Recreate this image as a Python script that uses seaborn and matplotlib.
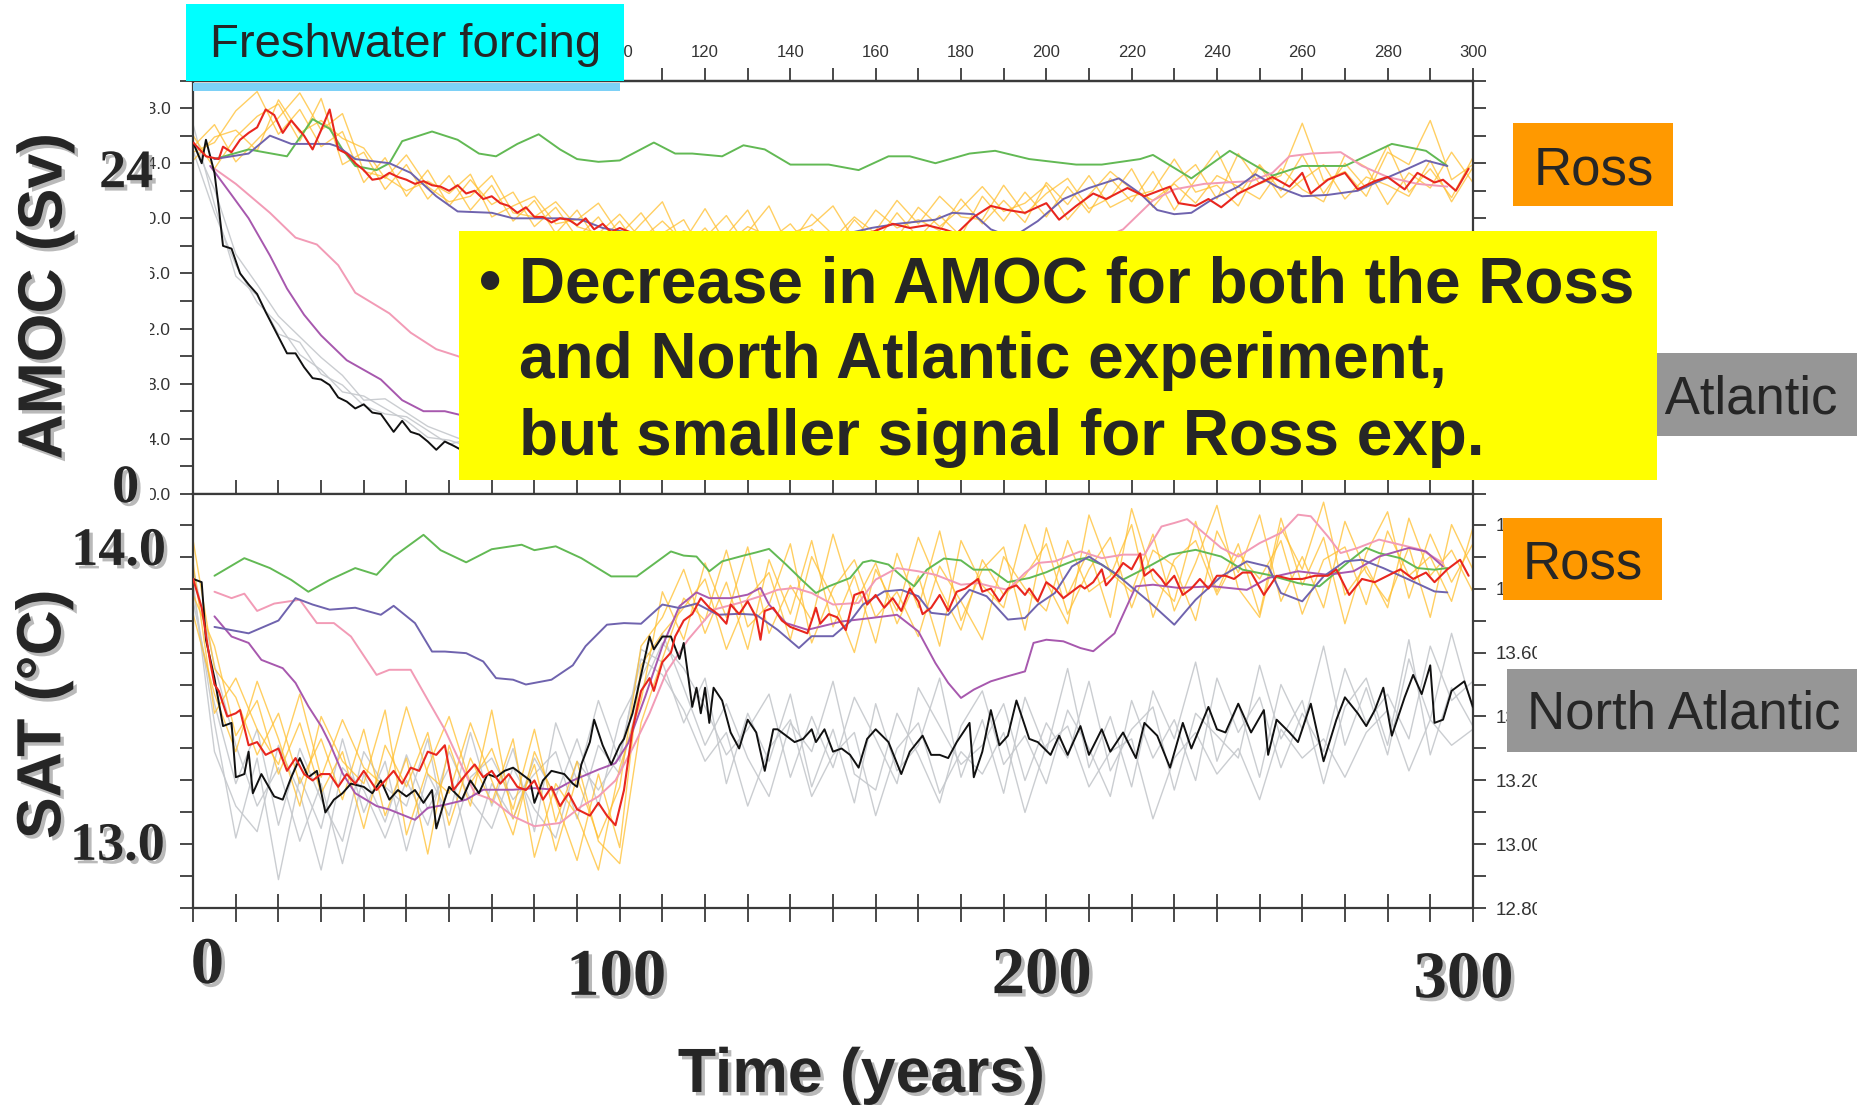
import numpy as np
import matplotlib
matplotlib.use("Agg")
import matplotlib.pyplot as plt
import matplotlib.patches as mpatches
import matplotlib.patheffects as pe
from matplotlib.ticker import MultipleLocator, FormatStrFormatter, FuncFormatter
import seaborn as sns

sns.set_style("white")
plt.rcParams['font.family'] = ['Liberation Sans', 'DejaVu Sans']

# ---------------------------------------------------------------- data
forcing_years = [0, 100]
years_5 = np.arange(0, 301, 5)

# AMOC (Sv) - ensemble means / smoothed runs, [year, value]
red_amoc = np.array([
    [0, 25.5], [3, 24.5], [6, 24.3], [7, 25.2], [9, 24.8], [11, 25.7], [13, 26.2], [15, 26.6],
    [17, 27.9], [19, 27.5], [21, 26.2], [23, 27.1], [26, 26.0], [28, 25.0], [30, 26.4], [32, 27.9],
    [34, 25.0], [36, 24.7], [38, 24.0], [40, 23.5], [42, 22.8], [44, 22.9], [46, 23.3], [48, 23.0],
    [50, 22.8], [52, 22.5], [54, 22.7], [56, 22.4], [58, 22.3], [60, 22.0], [62, 22.4], [64, 21.8],
    [66, 22.0], [68, 21.4], [70, 21.6], [72, 21.1], [74, 20.9], [76, 20.4], [78, 20.8], [80, 20.1],
    [82, 20.1], [84, 19.7], [86, 20.0], [88, 19.9], [90, 19.5], [92, 20.0], [94, 19.2], [96, 19.6],
    [98, 19.0], [100, 19.3], [104, 18.8], [108, 18.9], [112, 18.5], [116, 18.7], [120, 18.3],
    [124, 18.6], [128, 18.2], [132, 18.5], [136, 18.1], [140, 18.4], [144, 18.6], [148, 18.3],
    [152, 18.8], [156, 18.6], [160, 19.1], [164, 19.6], [168, 19.3], [172, 19.5], [176, 19.2],
    [179, 18.9], [183, 20.1], [187, 20.9], [191, 20.6], [195, 20.4], [200, 21.1], [203, 19.9],
    [207, 20.9], [211, 21.8], [214, 21.4], [219, 22.2], [223, 21.6], [229, 22.3], [231, 21.1],
    [235, 20.9], [238, 21.4], [241, 20.8], [245, 21.8], [249, 22.4], [253, 23.0], [257, 22.3],
    [260, 23.3], [262, 21.8], [266, 22.8], [270, 23.3], [273, 22.1], [277, 22.7], [280, 23.0],
    [284, 22.1], [287, 23.3], [291, 22.6], [293, 22.8], [296, 22.0], [299, 23.6]])

black_amoc = np.array([
    [0, 25.5], [2, 24.0], [3, 25.7], [5, 23.3], [6, 20.8], [7, 18.0], [9, 17.8], [11, 16.0],
    [13, 15.2], [15, 14.5], [17, 13.2], [20, 11.4], [22, 10.2], [24, 10.2], [26, 9.2], [28, 8.4],
    [30, 8.3], [32, 7.9], [34, 7.0], [36, 6.7], [38, 6.2], [40, 6.5], [42, 5.9], [44, 5.8],
    [47, 4.5], [49, 5.3], [51, 4.5], [53, 4.3], [55, 3.8], [57, 3.2], [59, 3.8], [61, 3.5],
    [64, 3.0], [68, 3.3], [72, 2.8], [76, 2.6], [80, 2.9], [85, 2.4], [90, 2.6], [95, 2.2],
    [100, 2.5], [110, 3.5], [120, 4.6], [130, 5.2], [140, 5.9], [150, 6.8], [160, 7.3],
    [170, 8.0], [180, 8.6], [190, 9.5], [200, 10.1], [220, 11.2], [240, 12.5], [260, 13.4],
    [280, 14.3], [300, 15.0]])

green_amoc = np.array([
    [5, 24.3], [13, 25.0], [22, 24.5], [28, 27.2], [32, 26.5], [35, 25.0], [38, 23.8], [43, 23.5],
    [46, 24.0], [49, 25.6], [56, 26.3], [62, 25.7], [67, 24.7], [71, 24.5], [76, 25.4], [81, 26.1],
    [86, 25.0], [90, 24.3], [95, 24.1], [100, 24.2], [108, 25.5], [113, 24.7], [117, 24.7],
    [124, 24.5], [129, 25.3], [134, 25.0], [140, 23.9], [149, 23.9], [156, 23.5], [163, 24.5],
    [168, 24.5], [174, 24.0], [182, 24.7], [188, 24.9], [196, 24.3], [207, 23.9], [213, 23.9],
    [222, 24.3], [225, 24.6], [234, 22.9], [243, 24.9], [253, 23.1], [260, 23.8], [270, 23.8],
    [281, 25.4], [289, 24.9], [294, 23.8]])

blue_amoc = np.array([
    [5, 24.3], [13, 24.7], [18, 26.0], [23, 25.4], [28, 25.4], [32, 25.4], [34, 25.2], [38, 24.3],
    [46, 24.0], [51, 23.3], [57, 21.6], [62, 20.5], [70, 20.4], [75, 20.0], [80, 20.0], [86, 20.0],
    [91, 19.9], [96, 19.3], [105, 18.8], [115, 18.3], [125, 17.8], [135, 17.6], [145, 18.0],
    [152, 18.8], [159, 19.3], [165, 19.6], [174, 19.9], [178, 20.4], [183, 20.3], [187, 19.2],
    [192, 18.6], [198, 19.8], [204, 21.4], [210, 22.2], [217, 22.9], [222, 21.8], [226, 20.6],
    [230, 20.3], [234, 20.4], [239, 21.4], [245, 22.3], [249, 23.2], [254, 22.3], [260, 21.6],
    [266, 21.7], [273, 22.0], [278, 22.7], [284, 23.5], [289, 24.2], [294, 23.8]])

pink_amoc = np.array([
    [5, 23.6], [10, 22.5], [18, 20.4], [24, 18.6], [29, 18.1], [34, 16.6], [38, 14.6], [46, 13.1],
    [51, 11.7], [57, 10.5], [62, 10.0], [70, 9.0], [80, 8.2], [90, 7.6], [100, 7.2], [110, 7.5],
    [120, 8.3], [130, 9.2], [140, 10.3], [150, 11.5], [160, 12.8], [170, 14.0], [180, 15.2],
    [190, 16.3], [200, 17.2], [210, 18.1], [218, 19.2], [225, 21.3], [230, 22.1], [237, 22.5],
    [242, 22.6], [248, 22.7], [253, 23.3], [257, 24.5], [262, 24.7], [269, 24.8], [274, 23.8],
    [280, 23.0], [287, 22.5], [294, 22.3]])

violet_amoc = np.array([
    [4, 23.8], [9, 21.7], [13, 20.0], [18, 17.3], [22, 14.9], [26, 13.0], [30, 11.5], [36, 9.7],
    [44, 8.3], [49, 6.8], [54, 6.0], [59, 6.0], [63, 5.7], [70, 5.3], [80, 4.9], [90, 4.6],
    [100, 4.5], [115, 5.2], [130, 6.5], [150, 8.5], [170, 10.5], [190, 12.0], [210, 13.5],
    [230, 14.8], [250, 15.8], [270, 16.5], [294, 17.0]])

# AMOC ensemble members (every 5 years)
ross_amoc_1 = [24.8, 25.5, 27.8, 29.2, 26.1, 27.9, 25.2, 26.3, 22.6, 24.4, 21.6, 23.5, 20.9, 22.8,
               21.0, 21.9, 19.4, 20.8, 18.6, 20.1, 17.9, 19.6, 21.2, 17.8, 19.3, 17.4, 19.0, 20.9,
               17.6, 19.2, 17.8, 19.9, 18.3, 20.4, 18.6, 20.2, 18.7, 21.6, 19.8, 21.9, 20.1, 22.3,
               20.4, 22.9, 21.2, 23.4, 20.6, 22.8, 24.9, 21.7, 23.9, 22.0, 24.6, 21.8, 24.0, 22.2,
               25.3, 21.9, 23.6, 21.5, 24.4]
ross_amoc_2 = [26.0, 23.6, 25.9, 27.4, 28.3, 25.6, 28.7, 23.9, 24.8, 22.1, 23.9, 21.4, 23.1, 20.6,
               22.4, 19.8, 21.3, 18.9, 20.6, 18.2, 19.8, 17.6, 18.9, 19.9, 17.2, 18.8, 20.6, 17.5,
               18.9, 19.5, 20.9, 18.4, 19.1, 21.3, 19.6, 21.6, 20.1, 19.9, 22.4, 20.3, 21.8, 22.9,
               20.7, 21.5, 23.6, 20.8, 22.6, 23.9, 21.4, 24.7, 22.5, 23.1, 26.9, 22.7, 23.4, 21.6,
               24.8, 23.9, 27.1, 22.8, 23.9]
ross_amoc_3 = [25.2, 26.8, 24.1, 25.7, 27.3, 29.1, 26.4, 27.6, 23.4, 23.0, 22.0, 22.7, 21.8, 23.2,
               20.1, 20.9, 21.6, 19.6, 19.9, 21.1, 18.8, 20.4, 18.2, 19.1, 18.6, 20.2, 17.9, 18.4,
               19.6, 17.7, 18.5, 20.1, 18.9, 18.6, 20.8, 19.4, 20.7, 22.3, 20.5, 21.1, 22.4, 19.9,
               21.7, 23.4, 22.1, 21.3, 22.5, 21.1, 23.1, 22.3, 21.4, 23.6, 22.1, 21.2, 24.6, 23.7,
               21.0, 23.3, 22.2, 24.8, 22.6]
ross_amoc_4 = [24.2, 25.9, 26.4, 24.9, 28.6, 26.2, 27.1, 25.8, 25.1, 22.9, 24.6, 22.3, 21.2, 21.6,
               23.1, 20.4, 20.1, 21.2, 19.4, 18.9, 20.3, 18.5, 19.8, 18.3, 20.7, 18.1, 19.4, 18.7,
               18.1, 20.3, 18.8, 18.4, 20.6, 19.3, 19.9, 19.1, 21.4, 19.6, 21.3, 19.7, 22.6, 21.0,
               23.1, 20.8, 21.6, 22.0, 24.3, 21.9, 22.4, 20.9, 23.8, 21.5, 22.8, 23.9, 21.4, 23.0,
               22.4, 21.6, 24.2, 21.2, 23.7]
na_amoc_1 = [24.9, 20.4, 16.6, 13.9, 12.3, 10.1, 9.0, 7.4, 7.1, 6.2, 5.3, 4.1, 3.9, 3.4, 2.9, 3.2,
             2.6, 2.9, 2.3, 2.7, 2.5, 3.3, 4.4, 4.9, 5.6, 5.9, 6.4, 6.8, 7.5, 7.7, 8.2, 8.6, 8.8,
             9.3, 9.9, 10.2, 10.4, 10.9, 11.1, 11.6, 11.8, 12.1, 12.4, 12.7, 12.6, 13.1, 13.3,
             13.5, 13.4, 13.9, 14.1, 14.0, 14.4, 14.6, 14.5, 14.9, 15.0, 15.2, 15.1, 15.4, 15.6]
na_amoc_2 = [25.6, 22.1, 17.4, 15.2, 12.9, 11.4, 9.9, 8.6, 6.8, 6.9, 5.9, 4.9, 4.3, 3.7, 3.5, 2.9,
             3.0, 2.5, 2.8, 2.2, 2.6, 3.6, 4.1, 5.1, 5.3, 6.2, 6.6, 7.1, 7.3, 8.0, 8.4, 8.3, 9.1,
             9.6, 9.7, 10.3, 10.8, 10.7, 11.4, 11.5, 12.0, 12.3, 12.2, 12.9, 13.0, 13.2, 13.1,
             13.7, 13.8, 13.6, 14.2, 14.3, 14.2, 14.7, 14.8, 14.7, 15.1, 15.3, 15.2, 15.5, 15.3]
na_amoc_3 = [26.8, 21.0, 15.8, 14.4, 11.6, 11.0, 8.7, 7.9, 6.4, 5.8, 5.6, 4.6, 3.6, 4.0, 3.1, 2.7,
             3.3, 2.6, 2.4, 2.9, 2.8, 3.1, 3.9, 4.6, 5.4, 5.7, 6.1, 6.9, 7.0, 7.6, 8.1, 8.7, 8.6,
             9.4, 9.5, 10.0, 10.6, 11.0, 10.9, 11.7, 11.9, 11.8, 12.5, 12.4, 12.9, 13.0, 13.4,
             13.3, 13.6, 13.8, 13.9, 14.1, 14.4, 14.3, 14.6, 14.6, 15.0, 14.9, 15.3, 15.2, 15.5]

# SAT (degC) - ensemble means / smoothed runs, [year, value]
red_sat = np.array([
    [0, 13.83], [2, 13.74], [4, 13.57], [5, 13.50], [6, 13.48], [8, 13.40], [10, 13.41],
    [11, 13.42], [13, 13.31], [15, 13.32], [17, 13.28], [20, 13.30], [22, 13.23], [24, 13.27],
    [26, 13.22], [28, 13.20], [30, 13.22], [32, 13.22], [34, 13.18], [36, 13.22], [38, 13.19],
    [40, 13.23], [43, 13.17], [45, 13.20], [47, 13.23], [49, 13.19], [51, 13.24], [53, 13.23],
    [55, 13.29], [57, 13.28], [59, 13.31], [61, 13.17], [64, 13.22], [66, 13.25], [68, 13.21],
    [70, 13.23], [72, 13.19], [74, 13.22], [76, 13.18], [78, 13.17], [80, 13.20], [82, 13.14],
    [84, 13.18], [86, 13.12], [88, 13.16], [90, 13.11], [93, 13.09], [95, 13.13], [97, 13.09],
    [99, 13.06], [101, 13.17], [103, 13.36], [105, 13.48], [107, 13.52], [108, 13.48],
    [110, 13.57], [112, 13.60], [113, 13.65], [115, 13.70], [117, 13.72], [119, 13.77],
    [121, 13.74], [123, 13.72], [125, 13.69], [126, 13.75], [128, 13.72], [130, 13.76],
    [132, 13.71], [133, 13.64], [134, 13.73], [136, 13.74], [138, 13.70], [140, 13.68],
    [142, 13.67], [144, 13.66], [146, 13.74], [147, 13.69], [149, 13.72], [151, 13.71],
    [153, 13.67], [155, 13.78], [157, 13.79], [158, 13.75], [160, 13.78], [162, 13.74],
    [164, 13.77], [166, 13.73], [168, 13.80], [170, 13.76], [171, 13.72], [173, 13.74],
    [175, 13.78], [177, 13.73], [179, 13.79], [181, 13.80], [183, 13.82], [184, 13.83],
    [185, 13.79], [187, 13.80], [189, 13.76], [191, 13.80], [193, 13.81], [195, 13.78],
    [196, 13.80], [198, 13.76], [200, 13.82], [202, 13.80], [204, 13.77], [206, 13.79],
    [208, 13.81], [209, 13.80], [211, 13.82], [213, 13.86], [214, 13.81], [216, 13.84],
    [218, 13.88], [220, 13.86], [222, 13.91], [223, 13.84], [225, 13.86], [227, 13.83],
    [228, 13.81], [230, 13.84], [232, 13.78], [234, 13.80], [236, 13.83], [238, 13.80],
    [240, 13.84], [242, 13.84], [244, 13.83], [246, 13.85], [248, 13.85], [251, 13.78],
    [254, 13.84], [257, 13.83], [260, 13.83], [263, 13.84], [266, 13.84], [268, 13.86],
    [271, 13.78], [274, 13.83], [277, 13.82], [280, 13.84], [283, 13.86], [286, 13.83],
    [289, 13.85], [291, 13.82], [294, 13.86], [297, 13.89], [299, 13.84]])

black_sat = np.array([
    [0, 13.83], [2, 13.82], [3, 13.64], [5, 13.52], [7, 13.37], [9, 13.38], [10, 13.21],
    [12, 13.22], [13, 13.29], [14, 13.16], [16, 13.22], [19, 13.15], [21, 13.14], [23, 13.21],
    [25, 13.27], [27, 13.21], [29, 13.23], [31, 13.10], [33, 13.14], [35, 13.16], [37, 13.19],
    [40, 13.18], [42, 13.16], [44, 13.20], [46, 13.14], [48, 13.17], [50, 13.15], [52, 13.17],
    [54, 13.13], [56, 13.17], [57, 13.05], [59, 13.14], [60, 13.18], [63, 13.14], [65, 13.20],
    [67, 13.16], [69, 13.22], [71, 13.21], [73, 13.23], [75, 13.24], [77, 13.22], [79, 13.20],
    [80, 13.13], [82, 13.20], [84, 13.23], [87, 13.22], [89, 13.19], [90, 13.18], [91, 13.25],
    [93, 13.32], [94, 13.39], [96, 13.31], [98, 13.25], [100, 13.31], [101, 13.33],
    [103, 13.41], [105, 13.53], [107, 13.65], [108, 13.61], [110, 13.65], [112, 13.65],
    [114, 13.58], [115, 13.63], [117, 13.43], [118, 13.49], [119, 13.41], [120, 13.49],
    [121, 13.38], [122, 13.49], [124, 13.45], [126, 13.35], [128, 13.30], [130, 13.39],
    [132, 13.35], [134, 13.23], [136, 13.36], [137, 13.36], [139, 13.34], [141, 13.32],
    [143, 13.33], [145, 13.36], [146, 13.32], [148, 13.36], [150, 13.29], [152, 13.30],
    [154, 13.28], [156, 13.24], [158, 13.33], [160, 13.36], [163, 13.32], [166, 13.22],
    [168, 13.29], [171, 13.34], [173, 13.28], [175, 13.28], [177, 13.27], [179, 13.32],
    [182, 13.38], [183, 13.21], [185, 13.29], [187, 13.42], [189, 13.31], [191, 13.34],
    [193, 13.45], [196, 13.33], [198, 13.32], [201, 13.28], [203, 13.34], [205, 13.28],
    [208, 13.37], [210, 13.28], [213, 13.36], [215, 13.29], [218, 13.35], [221, 13.27],
    [223, 13.38], [226, 13.34], [229, 13.24], [232, 13.38], [234, 13.30], [238, 13.43],
    [240, 13.36], [242, 13.35], [245, 13.44], [248, 13.35], [251, 13.42], [252, 13.28],
    [254, 13.39], [257, 13.35], [259, 13.32], [262, 13.44], [265, 13.26], [268, 13.39],
    [270, 13.46], [273, 13.41], [275, 13.37], [277, 13.42], [279, 13.49], [281, 13.34],
    [284, 13.46], [286, 13.53], [288, 13.47], [290, 13.56], [291, 13.38], [293, 13.39],
    [295, 13.48], [298, 13.51], [300, 13.43]])

green_sat = np.array([
    [5, 13.84], [12, 13.895], [18, 13.864], [23, 13.827], [27, 13.79], [32, 13.827],
    [38, 13.864], [43, 13.843], [47, 13.90], [54, 13.968], [58, 13.92], [64, 13.882],
    [70, 13.923], [77, 13.937], [80, 13.92], [85, 13.932], [91, 13.895], [98, 13.838],
    [104, 13.838], [112, 13.916], [115, 13.903], [118, 13.90], [121, 13.854], [124, 13.885],
    [129, 13.903], [132, 13.913], [135, 13.924], [139, 13.875], [143, 13.823], [146, 13.786],
    [149, 13.807], [154, 13.833], [157, 13.882], [159, 13.888], [163, 13.875], [167, 13.828],
    [169, 13.807], [172, 13.859], [176, 13.894], [180, 13.888], [183, 13.859], [187, 13.859],
    [191, 13.82], [196, 13.833], [200, 13.851], [203, 13.869], [207, 13.89], [209, 13.895],
    [213, 13.875], [218, 13.828], [224, 13.869], [229, 13.906], [235, 13.921], [241, 13.90],
    [246, 13.859], [252, 13.843], [259, 13.817], [264, 13.807], [271, 13.885], [275, 13.927],
    [278, 13.911], [283, 13.895], [287, 13.864], [291, 13.859], [294, 13.864]])

blue_sat = np.array([
    [5, 13.68], [13, 13.66], [20, 13.70], [24, 13.77], [28, 13.75], [32, 13.734], [38, 13.74],
    [44, 13.718], [47, 13.746], [52, 13.692], [56, 13.603], [59, 13.603], [64, 13.598],
    [68, 13.572], [71, 13.52], [75, 13.515], [78, 13.50], [84, 13.515], [89, 13.56],
    [92, 13.62], [97, 13.687], [101, 13.692], [105, 13.69], [110, 13.75], [114, 13.739],
    [118, 13.753], [123, 13.718], [128, 13.721], [132, 13.718], [137, 13.671], [142, 13.614],
    [145, 13.651], [150, 13.651], [154, 13.697], [157, 13.75], [162, 13.791], [166, 13.796],
    [170, 13.776], [173, 13.724], [177, 13.718], [182, 13.796], [186, 13.776], [191, 13.703],
    [195, 13.708], [198, 13.75], [202, 13.786], [206, 13.869], [210, 13.90], [216, 13.849],
    [224, 13.76], [230, 13.687], [235, 13.765], [241, 13.838], [247, 13.885], [252, 13.869],
    [255, 13.786], [260, 13.76], [265, 13.838], [270, 13.885], [274, 13.89], [279, 13.864],
    [285, 13.828], [291, 13.791], [294, 13.788]])

pink_sat = np.array([
    [5, 13.79], [9, 13.77], [12, 13.784], [15, 13.73], [19, 13.753], [25, 13.765], [29, 13.692],
    [33, 13.692], [37, 13.65], [43, 13.53], [46, 13.546], [51, 13.546], [55, 13.452],
    [59, 13.359], [63, 13.244], [66, 13.16], [70, 13.14], [75, 13.088], [80, 13.057],
    [86, 13.067], [91, 13.119], [95, 13.15], [99, 13.20], [103, 13.30], [107, 13.41],
    [111, 13.54], [116, 13.64], [122, 13.734], [128, 13.755], [133, 13.776], [137, 13.796],
    [141, 13.802], [145, 13.786], [150, 13.75], [156, 13.755], [160, 13.828], [165, 13.864],
    [170, 13.854], [174, 13.843], [180, 13.812], [184, 13.817], [187, 13.807], [191, 13.796],
    [195, 13.849], [198, 13.88], [202, 13.885], [208, 13.916], [213, 13.895], [218, 13.906],
    [223, 13.906], [227, 13.994], [230, 14.005], [233, 14.017], [236, 13.984], [241, 13.927],
    [245, 13.90], [250, 13.942], [255, 13.974], [259, 14.031], [262, 14.026], [266, 13.963],
    [269, 13.911], [273, 13.927], [278, 13.953], [283, 13.937], [288, 13.921], [293, 13.88]])

violet_sat = np.array([
    [5, 13.713], [9, 13.65], [13, 13.63], [16, 13.577], [21, 13.551], [24, 13.505], [27, 13.432],
    [30, 13.37], [32, 13.317], [35, 13.223], [38, 13.16], [43, 13.12], [46, 13.109],
    [52, 13.077], [55, 13.114], [59, 13.124], [64, 13.14], [68, 13.171], [75, 13.171],
    [80, 13.176], [85, 13.171], [89, 13.20], [95, 13.234], [99, 13.254], [102, 13.317],
    [106, 13.463], [110, 13.62], [114, 13.745], [118, 13.788], [121, 13.77], [126, 13.77],
    [130, 13.781], [133, 13.802], [135, 13.75], [139, 13.692], [144, 13.671], [152, 13.697],
    [159, 13.708], [165, 13.718], [170, 13.666], [174, 13.567], [177, 13.505], [180, 13.458],
    [183, 13.484], [187, 13.51], [191, 13.526], [195, 13.541], [197, 13.63], [200, 13.64],
    [204, 13.635], [208, 13.614], [211, 13.604], [216, 13.66], [221, 13.807], [225, 13.812],
    [231, 13.802], [239, 13.807], [247, 13.796], [252, 13.833], [259, 13.854], [266, 13.843],
    [272, 13.854], [278, 13.90], [285, 13.927], [289, 13.916], [293, 13.869]])

# SAT ensemble members (every 5 years)
ross_sat_1 = [13.95, 13.55, 13.46, 13.28, 13.41, 13.19, 13.33, 13.14, 13.36, 13.09, 13.27, 12.97,
              13.31, 13.12, 13.42, 13.08, 13.25, 12.98, 13.21, 13.02, 13.18, 13.62, 13.71, 13.86,
              13.66, 13.82, 13.61, 13.89, 13.72, 13.95, 13.68, 13.84, 13.63, 13.91, 13.74, 13.98,
              13.70, 13.86, 13.93, 13.67, 13.99, 13.78, 13.92, 13.71, 14.05, 13.83, 13.76, 14.01,
              13.79, 13.94, 13.72, 14.02, 13.81, 13.96, 13.69, 13.91, 14.04, 13.77, 13.97, 13.82,
              13.94]
ross_sat_2 = [13.78, 13.62, 13.34, 13.45, 13.22, 13.38, 13.16, 13.29, 13.05, 13.31, 13.18, 13.35,
              13.06, 13.27, 13.13, 13.33, 12.96, 13.19, 13.09, 12.92, 13.24, 13.45, 13.79, 13.64,
              13.88, 13.71, 13.93, 13.66, 13.81, 13.70, 13.97, 13.75, 13.88, 13.69, 13.84, 13.62,
              13.95, 13.81, 13.74, 14.00, 13.82, 13.69, 14.03, 13.85, 13.79, 13.97, 13.73, 13.88,
              14.06, 13.80, 13.71, 13.99, 13.86, 14.07, 13.78, 13.87, 13.74, 14.02, 13.84, 13.92,
              13.79]
ross_sat_3 = [13.88, 13.41, 13.52, 13.36, 13.25, 13.47, 13.21, 13.39, 13.24, 13.18, 13.43, 13.22,
              13.16, 13.38, 13.20, 13.03, 13.29, 13.14, 12.95, 13.22, 12.99, 13.56, 13.66, 13.74,
              13.83, 13.61, 13.77, 13.85, 13.64, 13.90, 13.77, 13.60, 13.86, 13.73, 13.96, 13.80,
              13.67, 13.89, 13.78, 13.84, 13.94, 13.72, 13.86, 13.96, 13.74, 13.92, 13.87, 13.70,
              13.98, 13.85, 14.03, 13.76, 13.90, 13.74, 14.01, 13.85, 13.76, 13.93, 13.71, 14.00,
              13.86]
ross_sat_4 = [13.72, 13.47, 13.29, 13.51, 13.33, 13.12, 13.40, 13.26, 13.19, 13.42, 13.03, 13.24,
              13.40, 13.19, 13.30, 13.11, 13.36, 13.07, 13.26, 13.01, 12.94, 13.38, 13.58, 13.77,
              13.70, 13.92, 13.68, 13.75, 13.94, 13.63, 13.80, 13.89, 13.71, 13.79, 13.65, 13.87,
              13.76, 13.64, 13.90, 13.80, 13.73, 13.95, 13.79, 13.84, 14.00, 13.71, 13.89, 13.95,
              13.78, 13.91, 13.83, 13.95, 13.72, 13.89, 13.93, 13.75, 13.98, 13.84, 13.90, 13.76,
              13.99]
na_sat_1 = [13.80, 13.38, 13.02, 13.27, 12.89, 13.21, 13.05, 13.33, 13.10, 13.26, 12.98, 13.22,
            13.09, 13.35, 13.12, 13.30, 13.04, 13.38, 13.20, 13.45, 13.26, 13.61, 13.57, 13.38,
            13.52, 13.19, 13.41, 13.26, 13.47, 13.18, 13.36, 13.13, 13.44, 13.23, 13.31, 13.52,
            13.21, 13.39, 13.16, 13.46, 13.29, 13.55, 13.24, 13.40, 13.18, 13.48, 13.33, 13.57,
            13.26, 13.44, 13.21, 13.50, 13.36, 13.62, 13.31, 13.49, 13.28, 13.58, 13.39, 13.66,
            13.42]
na_sat_2 = [13.86, 13.56, 13.31, 13.12, 13.24, 13.01, 13.19, 12.94, 13.22, 13.07, 13.28, 13.11,
            13.24, 12.97, 13.19, 13.08, 13.27, 13.15, 13.33, 13.12, 13.39, 13.52, 13.66, 13.49,
            13.31, 13.44, 13.27, 13.15, 13.38, 13.29, 13.51, 13.22, 13.17, 13.41, 13.28, 13.13,
            13.37, 13.48, 13.25, 13.34, 13.19, 13.42, 13.30, 13.15, 13.45, 13.27, 13.39, 13.20,
            13.52, 13.35, 13.46, 13.24, 13.41, 13.29, 13.55, 13.38, 13.47, 13.33, 13.62, 13.45,
            13.51]
na_sat_3 = [13.76, 13.44, 13.19, 13.36, 13.06, 13.30, 13.14, 13.01, 13.29, 13.18, 13.12, 13.33,
            12.99, 13.21, 13.27, 13.14, 13.22, 13.29, 13.08, 13.31, 13.22, 13.48, 13.63, 13.55,
            13.43, 13.28, 13.36, 13.47, 13.21, 13.40, 13.24, 13.46, 13.33, 13.19, 13.49, 13.37,
            13.25, 13.31, 13.44, 13.20, 13.38, 13.27, 13.51, 13.23, 13.36, 13.43, 13.17, 13.41,
            13.34, 13.27, 13.56, 13.33, 13.45, 13.19, 13.43, 13.52, 13.31, 13.64, 13.28, 13.49,
            13.37]
na_sat_4 = [13.82, 13.29, 13.12, 13.04, 13.31, 13.16, 12.92, 13.24, 13.17, 13.02, 13.20, 13.06,
            13.29, 13.14, 13.05, 13.24, 13.11, 13.02, 13.26, 13.17, 13.28, 13.58, 13.53, 13.42,
            13.26, 13.35, 13.12, 13.30, 13.39, 13.15, 13.28, 13.35, 13.09, 13.30, 13.38, 13.16,
            13.29, 13.22, 13.35, 13.10, 13.31, 13.37, 13.18, 13.29, 13.33, 13.08, 13.27, 13.35,
            13.22, 13.30, 13.14, 13.36, 13.27, 13.33, 13.21, 13.35, 13.42, 13.23, 13.39, 13.31,
            13.36]

# ---------------------------------------------------------------- colours
C_ROSS_MEMBER = '#FFBF2E'
C_NA_MEMBER = '#C5C8CC'
C_RED = '#E8261E'
C_BLACK = '#111111'
C_GREEN = '#62B954'
C_BLUE = '#6F63AE'
C_VIOLET = '#A758AE'
C_PINK = '#F29BB6'
C_AXIS = '#3a3a3a'

# layout helpers: positions measured on a 1568 x 933 grid of the reference
W, H = 1568.0, 933.0


def fx(px):
    return px / W


def fy(py):
    return 1 - py / H


def draw(ax, x, y, color, lw, alpha=1.0, z=2):
    sns.lineplot(x=x, y=y, ax=ax, color=color, linewidth=lw, alpha=alpha,
                 estimator=None, sort=False, legend=False, zorder=z)


def box(x0, y0, x1, y1, color, z):
    fig.add_artist(mpatches.Rectangle((fx(x0), fy(y1)), fx(x1) - fx(x0), fy(y0) - fy(y1),
                                      transform=fig.transFigure, facecolor=color,
                                      edgecolor='none', zorder=z))


fig = plt.figure(figsize=(18.58, 11.05), dpi=100)
fig.patch.set_facecolor('white')
ax1 = fig.add_axes([fx(163), fy(417), fx(1243) - fx(163), fy(68) - fy(417)])
ax2 = fig.add_axes([fx(163), fy(767), fx(1243) - fx(163), fy(417) - fy(767)])

# ---------------------------------------------------------------- AMOC panel
for m in (na_amoc_1, na_amoc_2, na_amoc_3):
    draw(ax1, years_5, m, C_NA_MEMBER, 1.0, 0.9, 1)
for m in (ross_amoc_1, ross_amoc_2, ross_amoc_3, ross_amoc_4):
    draw(ax1, years_5, m, C_ROSS_MEMBER, 1.0, 0.75, 2)
for arr, c in ((green_amoc, C_GREEN), (pink_amoc, C_PINK), (violet_amoc, C_VIOLET), (blue_amoc, C_BLUE)):
    draw(ax1, arr[:, 0], arr[:, 1], c, 1.4, 1.0, 3)
draw(ax1, black_amoc[:, 0], black_amoc[:, 1], C_BLACK, 1.4, 1.0, 4)
draw(ax1, red_amoc[:, 0], red_amoc[:, 1], C_RED, 1.5, 1.0, 5)
ax1.axvspan(forcing_years[0], forcing_years[1], ymin=0.974, ymax=0.994,
            color='#7DD1F6', zorder=6, lw=0)

# ---------------------------------------------------------------- SAT panel
for m in (na_sat_1, na_sat_2, na_sat_3, na_sat_4):
    draw(ax2, years_5, m, C_NA_MEMBER, 1.0, 0.9, 1)
for m in (ross_sat_1, ross_sat_2, ross_sat_3, ross_sat_4):
    draw(ax2, years_5, m, C_ROSS_MEMBER, 1.0, 0.75, 2)
for arr, c in ((green_sat, C_GREEN), (pink_sat, C_PINK), (violet_sat, C_VIOLET), (blue_sat, C_BLUE)):
    draw(ax2, arr[:, 0], arr[:, 1], c, 1.4, 1.0, 3)
draw(ax2, black_sat[:, 0], black_sat[:, 1], C_BLACK, 1.4, 1.0, 4)
draw(ax2, red_sat[:, 0], red_sat[:, 1], C_RED, 1.5, 1.0, 5)

# ---------------------------------------------------------------- axes styling
for ax in (ax1, ax2):
    ax.set_xlim(0, 300)
    ax.set_xlabel('')
    ax.set_ylabel('')
    ax.grid(False)
    for s in ax.spines.values():
        s.set_visible(True)
        s.set_color(C_AXIS)
        s.set_linewidth(1.6)
    ax.xaxis.set_major_locator(MultipleLocator(10))
    ax.tick_params(axis='x', which='both', bottom=True, top=False, direction='inout',
                   length=20, width=1.3, color=C_AXIS, labelbottom=False)
    ax.tick_params(axis='y', which='both', left=True, right=True, direction='out',
                   length=9.6, width=1.3, color=C_AXIS, labelcolor='#333333', pad=6.5)

ax1.set_ylim(0, 30)
ax1.yaxis.set_major_locator(MultipleLocator(4))
ax1.yaxis.set_minor_locator(MultipleLocator(2))
ax1.yaxis.set_major_formatter(FormatStrFormatter('%.1f'))
ax1.tick_params(axis='y', labelleft=True, labelright=False, labelsize=12.5)

# top year labels: the ones left of year 100 sit under the forcing banner
top = ax1.secondary_xaxis('top')
top.xaxis.set_major_locator(MultipleLocator(20))
top.xaxis.set_minor_locator(MultipleLocator(10))
top.xaxis.set_major_formatter(FuncFormatter(lambda v, p: f'{v:.0f}' if v >= 100 else ''))
top.tick_params(which='both', direction='out', length=9.6, width=1.3, color=C_AXIS,
                labelcolor='#333333', labelsize=12, pad=5)
top.spines['top'].set_color(C_AXIS)
top.spines['top'].set_linewidth(1.6)

ax2.set_ylim(12.8, 14.096)
ax2.yaxis.set_major_locator(MultipleLocator(0.2))
ax2.yaxis.set_minor_locator(MultipleLocator(0.1))
ax2.yaxis.set_major_formatter(FormatStrFormatter('%.2f'))
ax2.tick_params(axis='y', labelleft=False, labelright=True, labelsize=13.5)

# ---------------------------------------------------------------- slide overlays
box(0, 60, 127, 430, 'white', 1)      # crops the small left labels
box(1297, 425, 1568, 780, 'white', 1)  # crops the small right labels

box(157, 3, 527, 68, '#00FFFF', 2)
fig.text(fx(342), fy(38), 'Freshwater forcing', fontsize=34, ha='center', va='center', zorder=3)

box(1268, 298, 1568, 368, '#969696', 2)
fig.text(fx(1286), fy(349), 'North Atlantic', fontsize=38, ha='left', va='baseline', zorder=3)
box(1272, 565, 1568, 635, '#969696', 2)
fig.text(fx(1289), fy(615.5), 'North Atlantic', fontsize=38, ha='left', va='baseline', zorder=3)

box(1277, 104, 1412, 174, '#FF9900', 2)
fig.text(fx(1345), fy(156), 'Ross', fontsize=38, ha='center', va='baseline', zorder=3)
box(1268, 437, 1403, 507, '#FF9900', 2)
fig.text(fx(1336), fy(488.6), 'Ross', fontsize=38, ha='center', va='baseline', zorder=3)

box(387, 195, 1398, 405, '#FFFF00', 4)
fig.text(fx(404), fy(255), '\u2022', fontsize=46, fontweight='bold', ha='left', va='baseline', zorder=5)
for txt, base in (('Decrease in AMOC for both the Ross', 255),
                  ('and North Atlantic experiment,', 319),
                  ('but smaller signal for Ross exp.', 384)):
    fig.text(fx(438), fy(base), txt, fontsize=46, fontweight='bold', ha='left',
             va='baseline', zorder=5)

shadow = [pe.withSimplePatchShadow(offset=(2.5, -2.5), shadow_rgbFace='#808080', alpha=0.55)]
fig.text(fx(38), fy(250), 'AMOC (Sv)', fontsize=45, fontweight='bold', rotation=90,
         ha='center', va='center', path_effects=shadow, zorder=6)
fig.text(fx(37), fy(603), 'SAT (\u00b0C)', fontsize=45, fontweight='bold', rotation=90,
         ha='center', va='center', path_effects=shadow, zorder=6)

serif = ['Liberation Serif', 'DejaVu Serif']
for txt, x, base, size in (('24', 106.5, 158, 39), ('0', 106, 424, 39),
                           ('14.0', 100, 477, 39), ('13.0', 99, 726, 39),
                           ('0', 175, 830, 48), ('100', 520, 840, 48),
                           ('200', 879, 838.5, 48), ('300', 1235, 842, 48)):
    fig.text(fx(x), fy(base), txt, family=serif, fontsize=size, fontweight='bold',
             ha='center', va='baseline', path_effects=shadow, zorder=6)

fig.text(fx(727), fy(922), 'Time (years)', fontsize=45, fontweight='bold',
         ha='center', va='baseline', path_effects=shadow, zorder=6)

fig.savefig('out.png', dpi=100, facecolor='white')
